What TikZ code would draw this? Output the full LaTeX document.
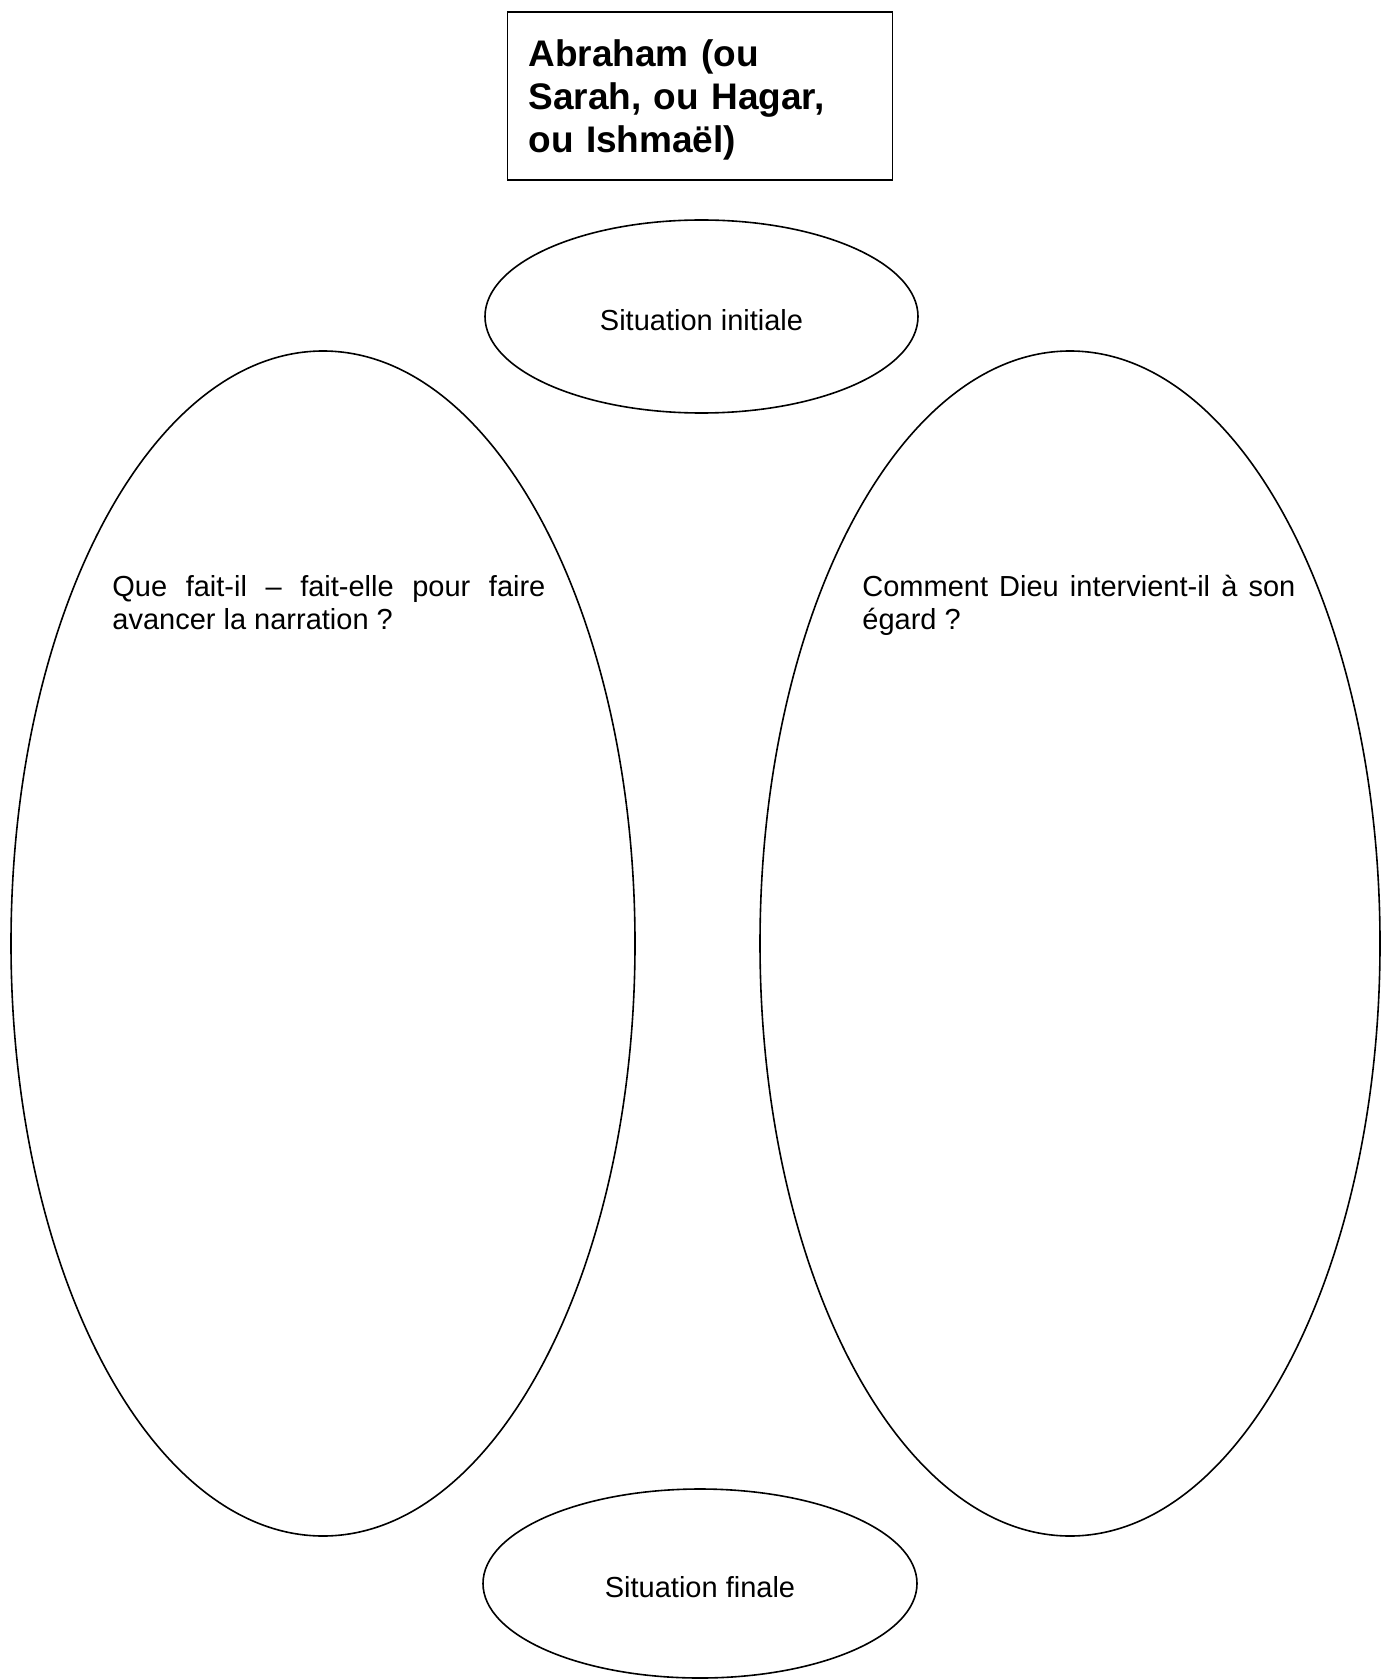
\documentclass[tikz,border=0pt]{standalone}
\usepackage{fontspec}
\setmainfont{Liberation Sans}
\usetikzlibrary{shapes.geometric}

\begin{document}
\begin{tikzpicture}[x=0.5pt,y=-0.5pt,
	bulle/.style={draw,ellipse,line width=0.8pt,inner sep=0pt,text height=14pt,text depth=0pt,font=\fontsize{14.5}{16.5}\selectfont},
	question/.style={anchor=base west,text width=216.5pt,align=justify,inner sep=0pt,font=\fontsize{14.5}{16.5}\selectfont}]
	\useasboundingbox (0,0) rectangle (1380,1679);
	\node[draw,line width=0.9pt,minimum width=192.5pt,minimum height=84pt,text width=171.5pt,inner xsep=10.5pt,text depth=43pt,align=left,font=\bfseries\fontsize{18.5}{21.5}\selectfont] (titre) at (700,96) {Abraham (ou\\Sarah, ou Hagar,\\ou Ishmaël)};
	\node[bulle,minimum width=216.5pt,minimum height=96.5pt] (initiale) at (701.5,316.5) {Situation initiale};
	\node[bulle,minimum width=312pt,minimum height=592.5pt] (gauche) at (323,943.5) {};
	\node[bulle,minimum width=310pt,minimum height=592.5pt] (droite) at (1070,943.5) {};
	\node[bulle,minimum width=217pt,minimum height=94.5pt] (finale) at (700,1583.5) {Situation finale};
	\node[question] (qgauche) at (112,596) {\hyphenpenalty=10000 Que fait-il – fait-elle pour faire\linebreak avancer la narration ?};
	\node[question] (qdroite) at (862,596) {\hyphenpenalty=10000 Comment Dieu intervient-il à son\linebreak égard ?};
\end{tikzpicture}
\end{document}
